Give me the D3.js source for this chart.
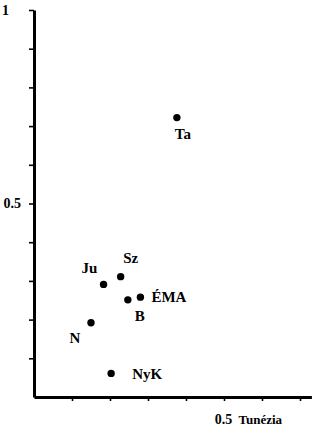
<!DOCTYPE html>
<html>
<head>
<meta charset="utf-8">
<script src="https://cdn.jsdelivr.net/npm/d3@7"></script>
<style>
  body { margin: 0; background: #fff; }
  text { font-family: "Liberation Serif", "DejaVu Serif", serif; font-weight: bold; fill: #000; }
</style>
</head>
<body>
<div id="chart"></div>
<script>
// regions and their coordinates (x: Tunézia)
var names = ['Ju', 'Sz', 'B', 'ÉMA', 'N', 'NyK', 'Ta'];
var xVals = [0.183, 0.228, 0.247, 0.280, 0.150, 0.203, 0.376];
var yVals = [0.291, 0.311, 0.251, 0.258, 0.192, 0.061, 0.722];
var xTicks = [0.1, 0.2, 0.3, 0.4, 0.5, 0.6, 0.7];
var yTicks = [0.1, 0.2, 0.3, 0.4, 0.5, 0.6, 0.7, 0.8, 0.9, 1];
var xLabeled = [0.5], yLabeled = [0.5, 1];
var xTitle = 'Tunézia';

// where each label sits relative to its dot
var labelPos = {
  'Ju':  { dx: -14, dy: -17, anchor: 'middle' },
  'Sz':  { dx: 10,  dy: -19, anchor: 'middle' },
  'B':   { dx: 12,  dy: 16,  anchor: 'middle' },
  'ÉMA': { dx: 11,  dy: 0,   anchor: 'start' },
  'N':   { dx: -16, dy: 15,  anchor: 'middle' },
  'NyK': { dx: 21,  dy: 0,   anchor: 'start' },
  'Ta':  { dx: 6,   dy: 16,  anchor: 'middle' }
};

var W = 318, H = 428,
  margin = { top: 10, left: 34, bottom: 31 };

var x = d3.scaleLinear().domain([0, 0.73]).range([margin.left, margin.left + 0.73 * 380]),
    y = d3.scaleLinear().domain([0, 1]).range([H - margin.bottom, margin.top]);

var svg = d3.select('#chart').append('svg')
  .attr('width', W).attr('height', H);

var points = names.map(function(n, i) { return { name: n, x: xVals[i], y: yVals[i] }; });

// axes
var gx = svg.append('g')
  .attr('transform', 'translate(0,' + y(0) + ')')
  .call(d3.axisBottom(x).tickValues(xTicks).tickSize(4).tickSizeOuter(0)
    .tickFormat(function(d) { return xLabeled.indexOf(d) >= 0 ? d : ''; }));
var gy = svg.append('g')
  .attr('transform', 'translate(' + x(0) + ',0)')
  .call(d3.axisLeft(y).tickValues(yTicks).tickSize(5).tickSizeOuter(0)
    .tickFormat(function(d) { return yLabeled.indexOf(d) >= 0 ? d : ''; }));

[gx, gy].forEach(function(g) {
  g.select('.domain').style('stroke', '#000').style('stroke-width', '3px');
  g.selectAll('.tick line').style('stroke', '#000').style('stroke-width', '1.6px');
  g.selectAll('.tick text')
    .style('font-family', '"Liberation Serif", serif')
    .style('font-weight', 'bold')
    .style('font-size', '14px')
    .style('fill', '#000');
});
gx.selectAll('.tick text').attr('dy', '1.45em').attr('dx', -1);
gy.selectAll('.tick text').attr('dx', function(d) { return d === 1 ? -17 : -5; });

svg.append('text')
  .attr('x', x(0.538)).attr('y', y(0) + 27)
  .style('font-size', '13px')
  .text(xTitle);

// dots
svg.selectAll('circle.pt')
  .data(points)
  .enter().append('circle')
  .attr('class', 'pt')
  .attr('cx', function(d) { return x(d.x); })
  .attr('cy', function(d) { return y(d.y); })
  .attr('r', 3.7)
  .attr('fill', '#000');

svg.selectAll('text.lbl')
  .data(points)
  .enter().append('text')
  .attr('class', 'lbl')
  .attr('x', function(d) { return x(d.x) + labelPos[d.name].dx; })
  .attr('y', function(d) { return y(d.y) + labelPos[d.name].dy; })
  .attr('dy', '0.35em')
  .attr('text-anchor', function(d) { return labelPos[d.name].anchor; })
  .style('font-size', '15px')
  .text(function(d) { return d.name; });
</script>
</body>
</html>
